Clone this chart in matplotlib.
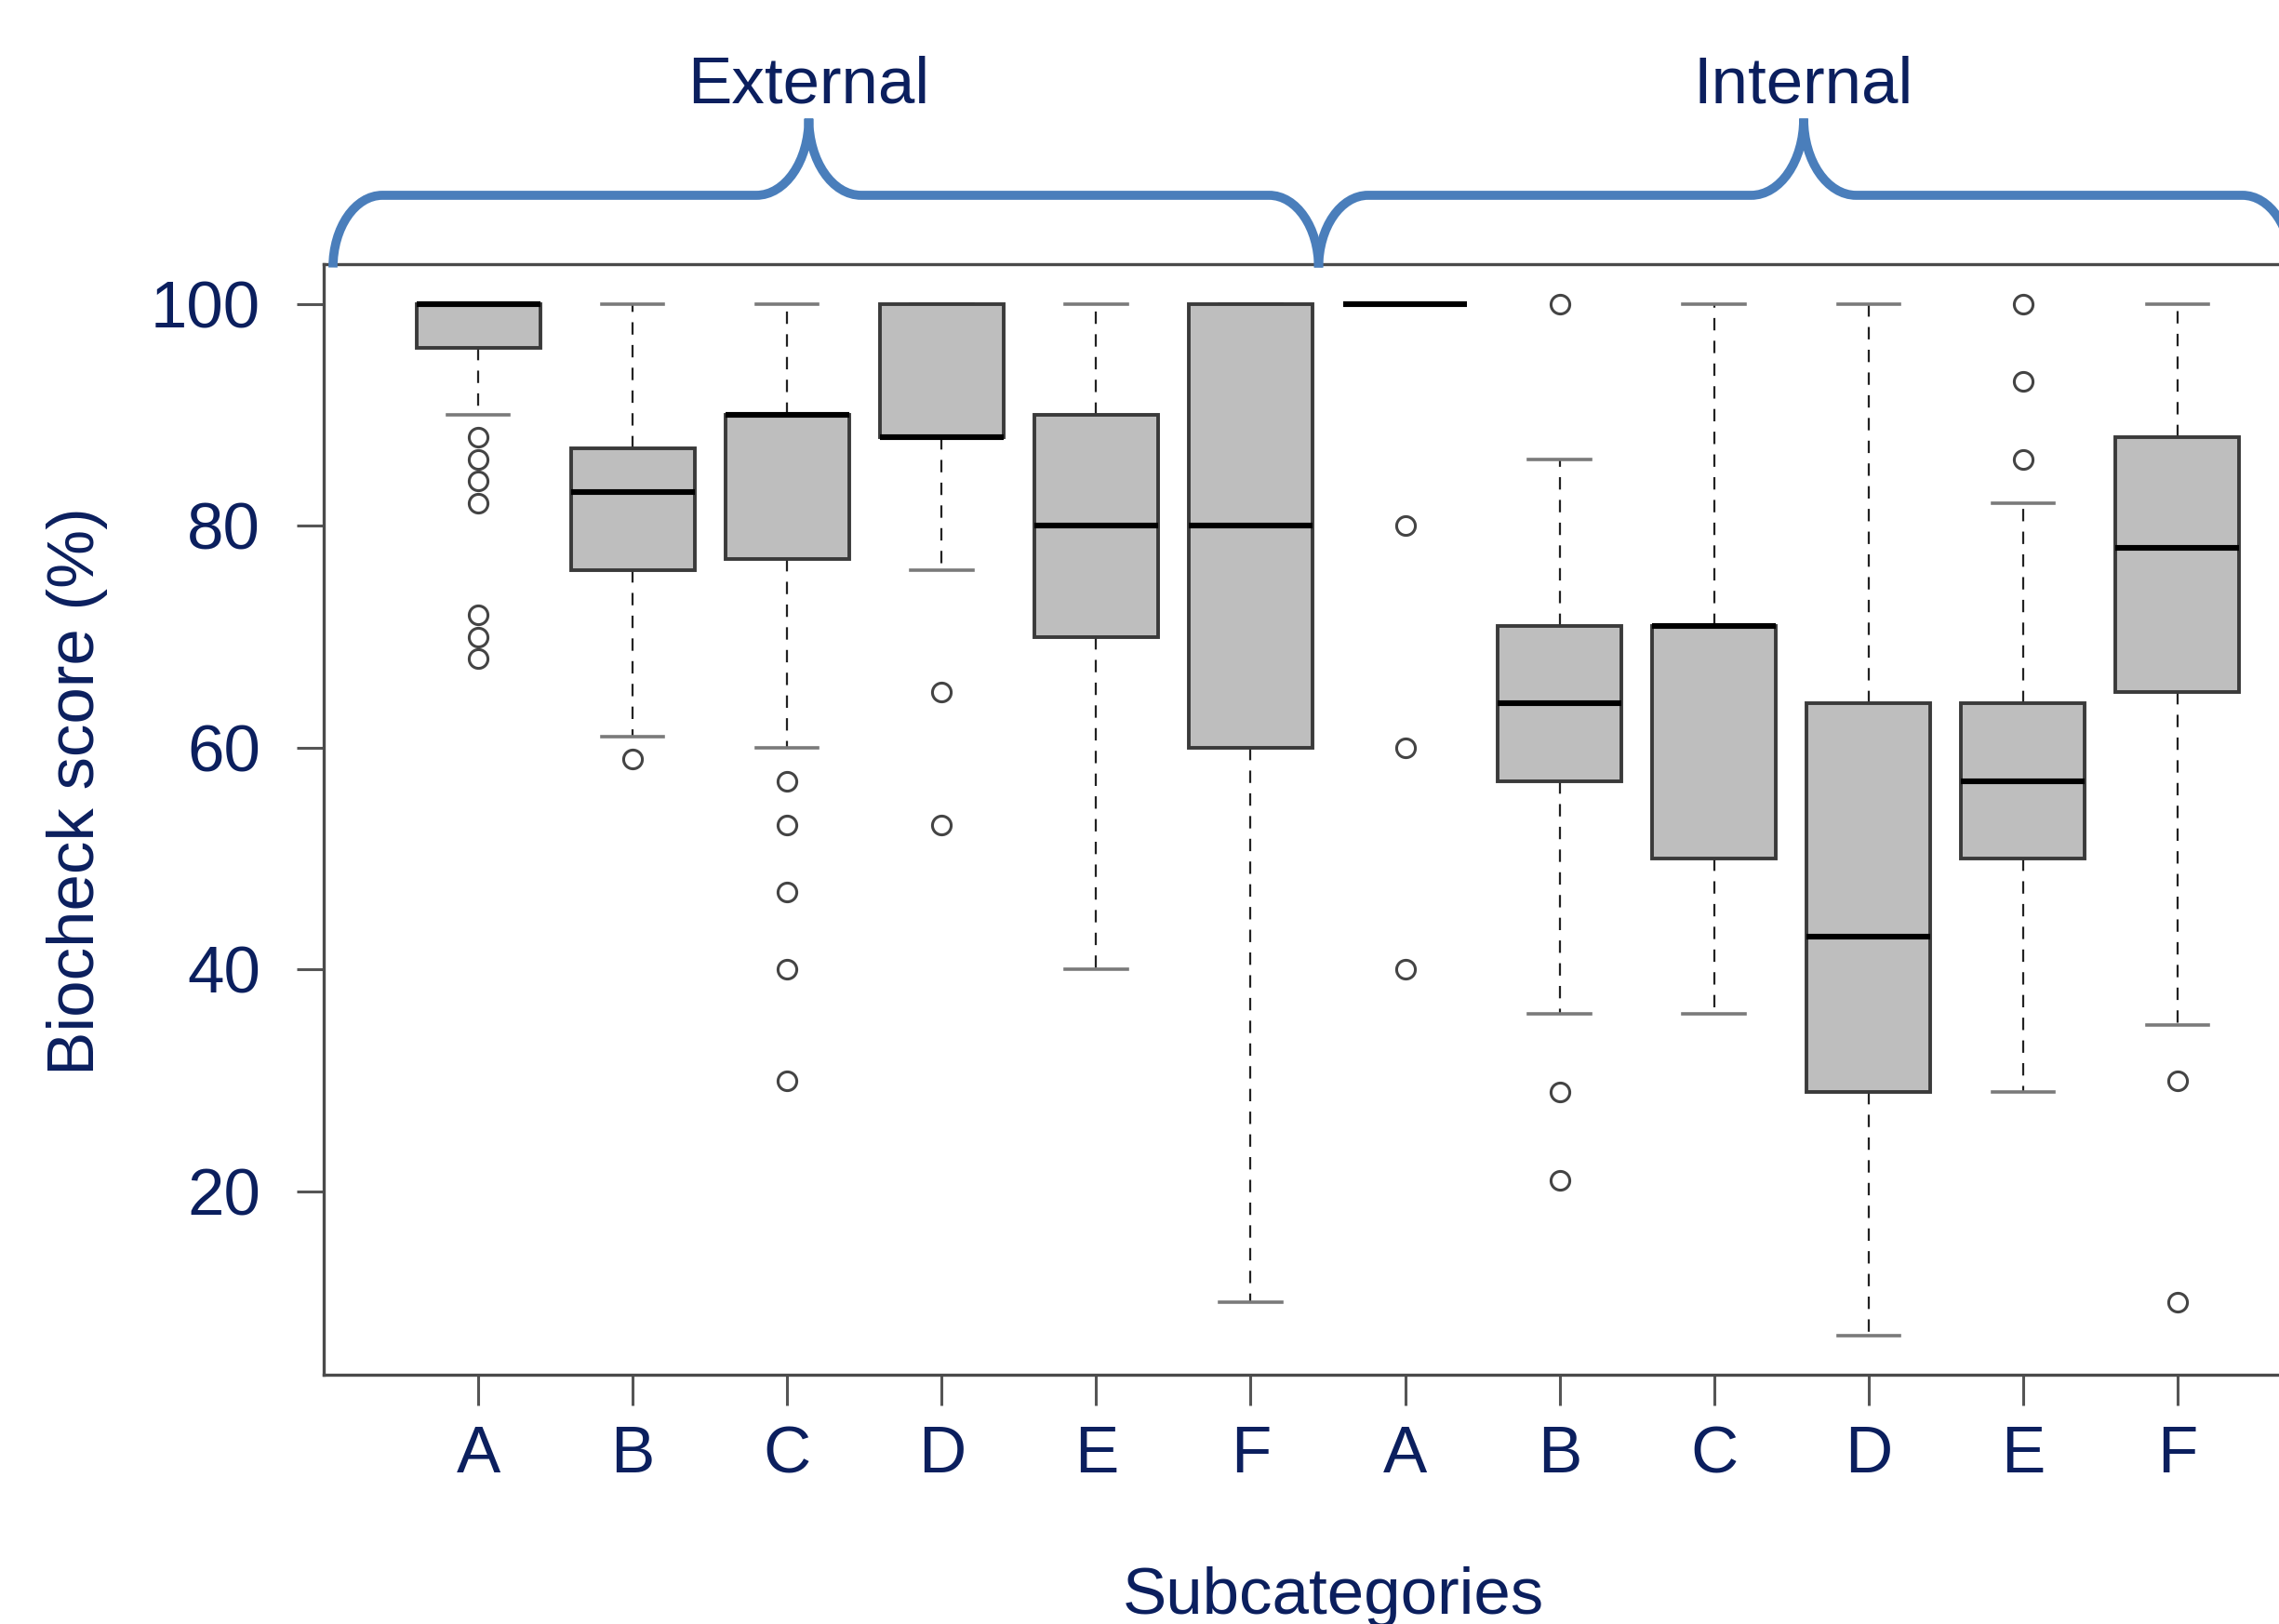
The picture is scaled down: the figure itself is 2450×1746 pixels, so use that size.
"""
Biocheck boxplot: external vs internal subcategory scores
"""

import matplotlib
matplotlib.use("Agg")
import matplotlib.pyplot as plt
from matplotlib.path import Path
from matplotlib.patches import PathPatch
from matplotlib.transforms import blended_transform_factory

# ── Data ──────────────────────────────────────────────────────────────────────
LABELS  = ["A", "B", "C", "D", "E", "F", "A", "B", "C", "D", "E", "F"]
MEDIANS = [100, 83, 90, 88, 80, 80, 100, 64, 71, 43, 57, 78]
Q1      = [96, 76, 77, 88, 70, 60, 100, 57, 50, 29, 50, 65]
Q3      = [100, 87, 90, 100, 90, 100, 100, 71, 71, 64, 64, 88]
WHISLO  = [90, 61, 60, 76, 40, 10, 100, 36, 36, 7, 29, 35]
WHISHI  = [100, 100, 100, 100, 100, 100, 100, 86, 100, 100, 82, 100]
FLIERS  = [[88, 86, 84, 82, 72, 70, 68], [59], [57, 53, 47, 40, 30], [65, 53],
           [], [], [80, 60, 40], [100, 29, 21], [], [], [100, 93, 86], [30, 10]]

GROUPS      = ["External", "Internal"]
GROUP_LEFT  = [0.06, 6.44]   # brace ends, x data units
GROUP_TIP   = [3.14, 9.58]
GROUP_RIGHT = [6.44, 12.74]

# ── Style ─────────────────────────────────────────────────────────────────────
NAVY   = "#0B1F5E"
BRACE  = "#4A7EBB"
FILL   = "#BEBEBE"
EDGE   = "#3A3A3A"
FS     = 51
plt.rcParams["font.family"] = ["Liberation Sans", "DejaVu Sans"]

W, H = 2450, 1746
fig = plt.figure(figsize=(W / 100, H / 100), dpi=100, facecolor="white")
ax = fig.add_axes([348 / W, 1 - 1478 / H, (2507 - 348) / W, (1478 - 284) / H])

stats = []
for i in range(len(LABELS)):
    stats.append(dict(med=MEDIANS[i], q1=Q1[i], q3=Q3[i],
                      whislo=WHISLO[i], whishi=WHISHI[i],
                      fliers=FLIERS[i], label=LABELS[i]))

positions = list(range(1, len(LABELS) + 1))
ax.bxp(stats, positions=positions, widths=0.8, capwidths=0.4,
       patch_artist=True, showfliers=True,
       boxprops=dict(facecolor=FILL, edgecolor=EDGE, linewidth=2.8, zorder=3),
       medianprops=dict(color="black", linewidth=4.4, solid_capstyle="butt",
                        zorder=4),
       whiskerprops=dict(color="#222222", linewidth=1.6, linestyle=(0, (6, 5)),
                         zorder=2),
       capprops=dict(color="#7A7A7A", linewidth=2.6, zorder=2),
       flierprops=dict(marker="o", markersize=14.5, markerfacecolor="none",
                       markeredgecolor="#444444", markeredgewidth=2.2))

ax.set_xlim(0, 13)
ax.set_ylim(3.49, 103.57)
ax.set_yticks([20, 40, 60, 80, 100])
ax.set_xticks(positions)
ax.set_xticklabels(LABELS)

for s in ax.spines.values():
    s.set_color("#4A4A4A")
    s.set_linewidth(2.4)
ax.tick_params(axis="both", colors="#555555", labelcolor=NAVY,
               labelsize=FS, width=2.2)
ax.tick_params(axis="x", length=24, pad=15)
ax.tick_params(axis="y", length=21, pad=28)

# axis titles
fig.text(83 / W, 1 - 851 / H, "Biocheck score (%)", rotation=90,
         ha="center", va="center", fontsize=FS, color=NAVY)
fig.text(1433 / W, 1 - 1735 / H, "Subcategories",
         ha="center", va="baseline", fontsize=FS, color=NAVY)

# ── Curly braces over the two groups ─────────────────────────────────────────
trans = blended_transform_factory(ax.transData, ax.transAxes)
Y0, YH, YT = 0.997, 1.062, 1.131   # foot, bar, tip (axes fraction)
RW, TW = 0.32, 0.34                # corner and tip curve widths (data units)
K = 0.5523

for name, x0, xm, x1 in zip(GROUPS, GROUP_LEFT, GROUP_TIP, GROUP_RIGHT):
    h1, h2 = YH - Y0, YT - YH
    verts = [
        (x0, Y0), (x0, Y0 + K * h1), (x0 + RW - K * RW, YH), (x0 + RW, YH),
        (xm - TW, YH),
        (xm - TW + K * TW, YH), (xm, YT - K * h2), (xm, YT),
        (xm, YT - K * h2), (xm + TW - K * TW, YH), (xm + TW, YH),
        (x1 - RW, YH),
        (x1 - RW + K * RW, YH), (x1, Y0 + K * h1), (x1, Y0),
    ]
    codes = ([Path.MOVETO] + [Path.CURVE4] * 3 + [Path.LINETO]
             + [Path.CURVE4] * 3 + [Path.CURVE4] * 3 + [Path.LINETO]
             + [Path.CURVE4] * 3)
    patch = PathPatch(Path(verts, codes), transform=trans, facecolor="none",
                      edgecolor=BRACE, linewidth=7, clip_on=False,
                      capstyle="butt", joinstyle="miter", zorder=5)
    ax.add_patch(patch)
    ax.text(xm, 1.1457, name, transform=trans, ha="center", va="baseline",
            fontsize=FS, color=NAVY, clip_on=False)

fig.savefig("out.png", dpi=100, facecolor="white")
